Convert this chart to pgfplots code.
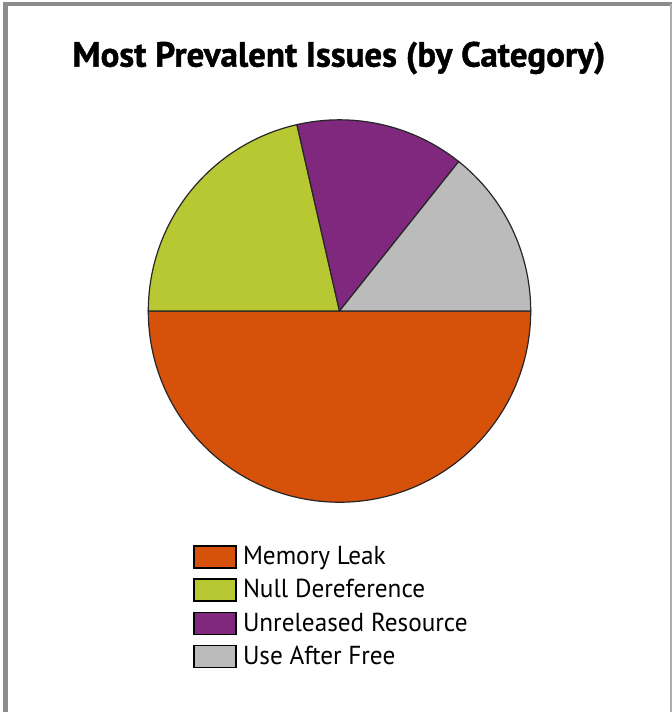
\documentclass[border=0pt]{standalone}
\usepackage{pgfplots}
\usepackage{pgfplotstable}
\pgfplotsset{compat=1.18}
\usepackage{fontspec}
\setmainfont{PT Sans}
\newfontfamily\titlefont[BoldFeatures={FakeBold=1.2}]{PT Sans}
\newfontfamily\legfont[FakeStretch=0.97]{PT Sans}

\definecolor{mleak}{RGB}{214,81,10}
\definecolor{nderef}{RGB}{184,200,50}
\definecolor{unrel}{RGB}{127,40,125}
\definecolor{uaf}{RGB}{187,187,187}
\definecolor{frame}{RGB}{140,140,140}

% issue counts, in legend order
\pgfplotstableread{
count colour
7 mleak
3 nderef
2 unrel
2 uaf
}\issues

\begin{document}
\begin{tikzpicture}
\begin{axis}[
    at={(0pt,0pt)}, anchor=north west,
    scale only axis, width=336pt, height=356pt,
    xmin=0, xmax=672, ymin=0, ymax=712, y dir=reverse,
    hide axis, clip=false,
    legend style={at={(axis cs:193,542)}, anchor=north west,
        draw=none, fill=none, inner sep=0pt, row sep=1.9pt,
        font=\legfont\fontsize{13}{15}\selectfont,
        nodes={inner xsep=3pt},
        cells={anchor=west}},
    legend image code/.code={
        \draw[#1, draw=black, line width=0.8pt] (0pt,-5.5pt) rectangle (21pt,5.5pt);},
]
% pie, clockwise from east
\pgfplotstablegetrowsof{\issues}
\pgfmathtruncatemacro\nrows{\pgfplotsretval-1}
\gdef\total{14}
\gdef\cum{0}
\pgfplotsinvokeforeach{0,...,\nrows}{
    \pgfplotstablegetelem{#1}{count}\of\issues
    \pgfmathsetmacro\s{-\cum/\total*360}
    \pgfmathsetmacro\e{-(\cum+\pgfplotsretval)/\total*360}
    \pgfmathsetmacro\newcum{\cum+\pgfplotsretval}
    \xdef\cum{\newcum}
    \pgfplotstablegetelem{#1}{colour}\of\issues
    \edef\doit{\noexpand\filldraw[fill=\pgfplotsretval, draw=black!85, line width=0.6pt]
        (axis cs:339.5,311) -- ++(\s:95.6pt) arc[start angle=\s, end angle=\e, radius=95.6pt] -- cycle;}
    \doit
}
\addlegendimage{fill=mleak}\addlegendentry{Memory Leak}
\addlegendimage{fill=nderef}\addlegendentry{Null Dereference}
\addlegendimage{fill=unrel}\addlegendentry{Unreleased Resource}
\addlegendimage{fill=uaf}\addlegendentry{Use After Free}

\node[font=\titlefont\bfseries\fontsize{17.5}{20}\selectfont] at (axis cs:339,58) {Most Prevalent Issues (by Category)};

% frame
\draw[frame, line width=2.2pt] (axis cs:5.5,712) -- (axis cs:5.5,4) -- (axis cs:672,4);
\draw[frame!70, line width=0.9pt] (axis cs:670.8,4) -- (axis cs:670.8,712);
\end{axis}
\pgfresetboundingbox
\path (0pt,0pt) rectangle (336pt,-356pt);
\end{tikzpicture}
\end{document}
